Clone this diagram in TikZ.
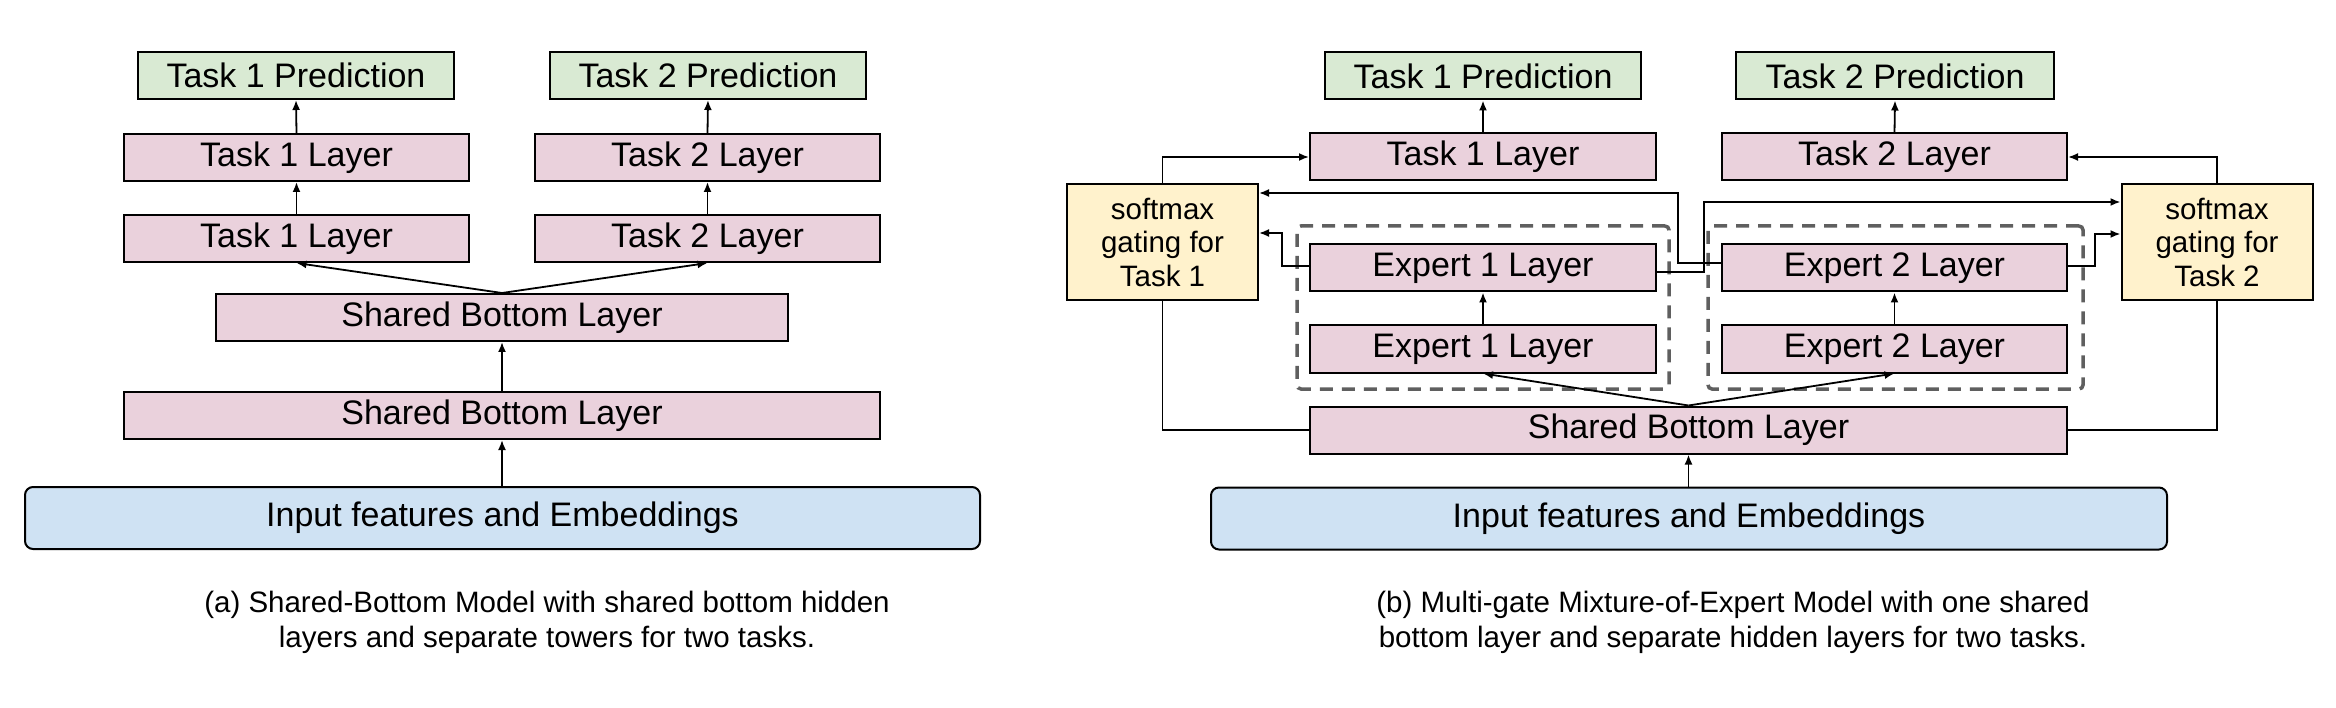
\documentclass[tikz,border=0pt]{standalone}
\usepackage{fontspec}
\setmainfont{Liberation Sans}
\usetikzlibrary{arrows.meta}
\definecolor{pinkc}{HTML}{EAD1DC}
\definecolor{greenc}{HTML}{D9EAD3}
\definecolor{bluec}{HTML}{CFE2F3}
\definecolor{yellowc}{HTML}{FFF2CC}
\definecolor{dashc}{HTML}{5F5F5F}
\tikzset{
  base/.style={draw=black, line width=2pt, inner sep=0pt, minimum height=47pt,
    font=\fontsize{34}{40}\selectfont},
  layer/.style={base, fill=pinkc, minimum width=345pt},
  pred/.style={base, fill=greenc, minimum width=316pt},
  inbox/.style={base, fill=bluec, rounded corners=8pt, minimum width=955pt, minimum height=62pt},
  gate/.style={base, fill=yellowc, minimum width=191pt, minimum height=116pt, align=center,
    font=\fontsize{29.5}{33.5}\selectfont},
  dbox/.style={draw=dashc, line width=3.5pt, dash pattern=on 13pt off 9pt, rounded corners=4pt,
    inner sep=0pt},
  captxt/.style={align=center, font=\fontsize{29.5}{35}\selectfont, inner sep=0pt},
  arr/.style={line width=1.8pt, -{Latex[length=10pt,width=8pt]}},
  ln/.style={line width=1.8pt},
}
\begin{document}
\begin{tikzpicture}[x=1pt,y=-1pt]
\useasboundingbox (0,0) rectangle (2336,708);
% ---------------- left panel ----------------
\node[pred] (aP1) at (296,75.5) {Task 1 Prediction};
\node[pred] (aP2) at (708,75.5) {Task 2 Prediction};
\node[layer] (aT1t) at (296.5,157.5) {Task 1 Layer};
\node[layer] (aT2t) at (707.5,157.5) {Task 2 Layer};
\node[layer] (aT1b) at (296.5,238.5) {Task 1 Layer};
\node[layer] (aT2b) at (707.5,238.5) {Task 2 Layer};
\node[layer, minimum width=572pt] (aSBu) at (502,317.5) {Shared Bottom Layer};
\node[layer, minimum width=756pt] (aSBl) at (502,415.5) {Shared Bottom Layer};
\node[inbox] (aIn) at (502.5,518) {Input features and Embeddings};
\node[captxt] (aCap) at (547,622) {(a) Shared-Bottom Model with shared bottom hidden\\layers and separate towers for two tasks.};
\draw[arr] (aIn.north -| aSBl.south) -- (aSBl.south);
\draw[arr] (aSBl.north) -- (aSBu.south);
\draw[arr] (aSBu.north) -- (aT1b.south);
\draw[arr] (aSBu.north) -- (aT2b.south);
\draw[arr] (aT1b.north) -- (aT1t.south);
\draw[arr] (aT2b.north) -- (aT2t.south);
\draw[arr] (aT1t.north) -- (aP1.south);
\draw[arr] (aT2t.north) -- (aP2.south);
% ---------------- right panel ----------------
\node[dbox, minimum width=372pt, minimum height=163pt] (D1) at (1483,307.5) {};
\node[dbox, minimum width=375pt, minimum height=163pt] (D2) at (1895.5,307.5) {};
\node[pred] (bP1) at (1483,76) {Task 1 Prediction};
\node[pred, minimum width=318pt] (bP2) at (1895,76) {Task 2 Prediction};
\node[layer, minimum width=346pt] (bT1) at (1483,157) {Task 1 Layer};
\node[layer] (bT2) at (1894.5,157) {Task 2 Layer};
\node[gate] (G1) at (1162.5,242) {softmax\\gating for\\Task 1};
\node[gate] (G2) at (2217,242) {softmax\\gating for\\Task 2};
\node[layer, minimum width=346pt] (E1t) at (1483,268) {Expert 1 Layer};
\node[layer, minimum width=346pt] (E1b) at (1483,349) {Expert 1 Layer};
\node[layer] (E2t) at (1894.5,268) {Expert 2 Layer};
\node[layer] (E2b) at (1894.5,349) {Expert 2 Layer};
\node[layer, minimum width=757pt] (bSB) at (1688.5,430) {Shared Bottom Layer};
\node[inbox, minimum width=956pt] (bIn) at (1689,518.5) {Input features and Embeddings};
\node[captxt] (bCap) at (1733,622) {(b) Multi-gate Mixture-of-Expert Model with one shared\\bottom layer and separate hidden layers for two tasks.};
\draw[arr] (bIn.north -| bSB.south) -- (bSB.south);
\draw[arr] (bSB.north) -- (E1b.south);
\draw[arr] (bSB.north) -- (E2b.south);
\draw[arr] (E1b.north) -- (E1t.south);
\draw[arr] (E2b.north) -- (E2t.south);
\draw[arr] (bT1.north) -- (bP1.south);
\draw[arr] (bT2.north) -- (bP2.south);
% gates
\draw[arr] (G1.north) |- (bT1.west);
\draw[arr] (G2.north) |- (bT2.east);
\draw[ln] (G1.south) |- (bSB.west);
\draw[ln] (G2.south) |- (bSB.east);
% experts to gates
\draw[arr] ([yshift=2pt]E1t.west) -- ++(-27,0) |- ([yshift=9pt]G1.east);
\draw[arr] ([yshift=5pt]E2t.west) -- ++(-43,0) |- ([yshift=49pt]G1.east);
\draw[arr] ([yshift=-4pt]E1t.east) -- ++(47,0) |- ([yshift=40pt]G2.west);
\draw[arr] ([yshift=2pt]E2t.east) -- ++(27,0) |- ([yshift=8pt]G2.west);
\end{tikzpicture}
\end{document}
